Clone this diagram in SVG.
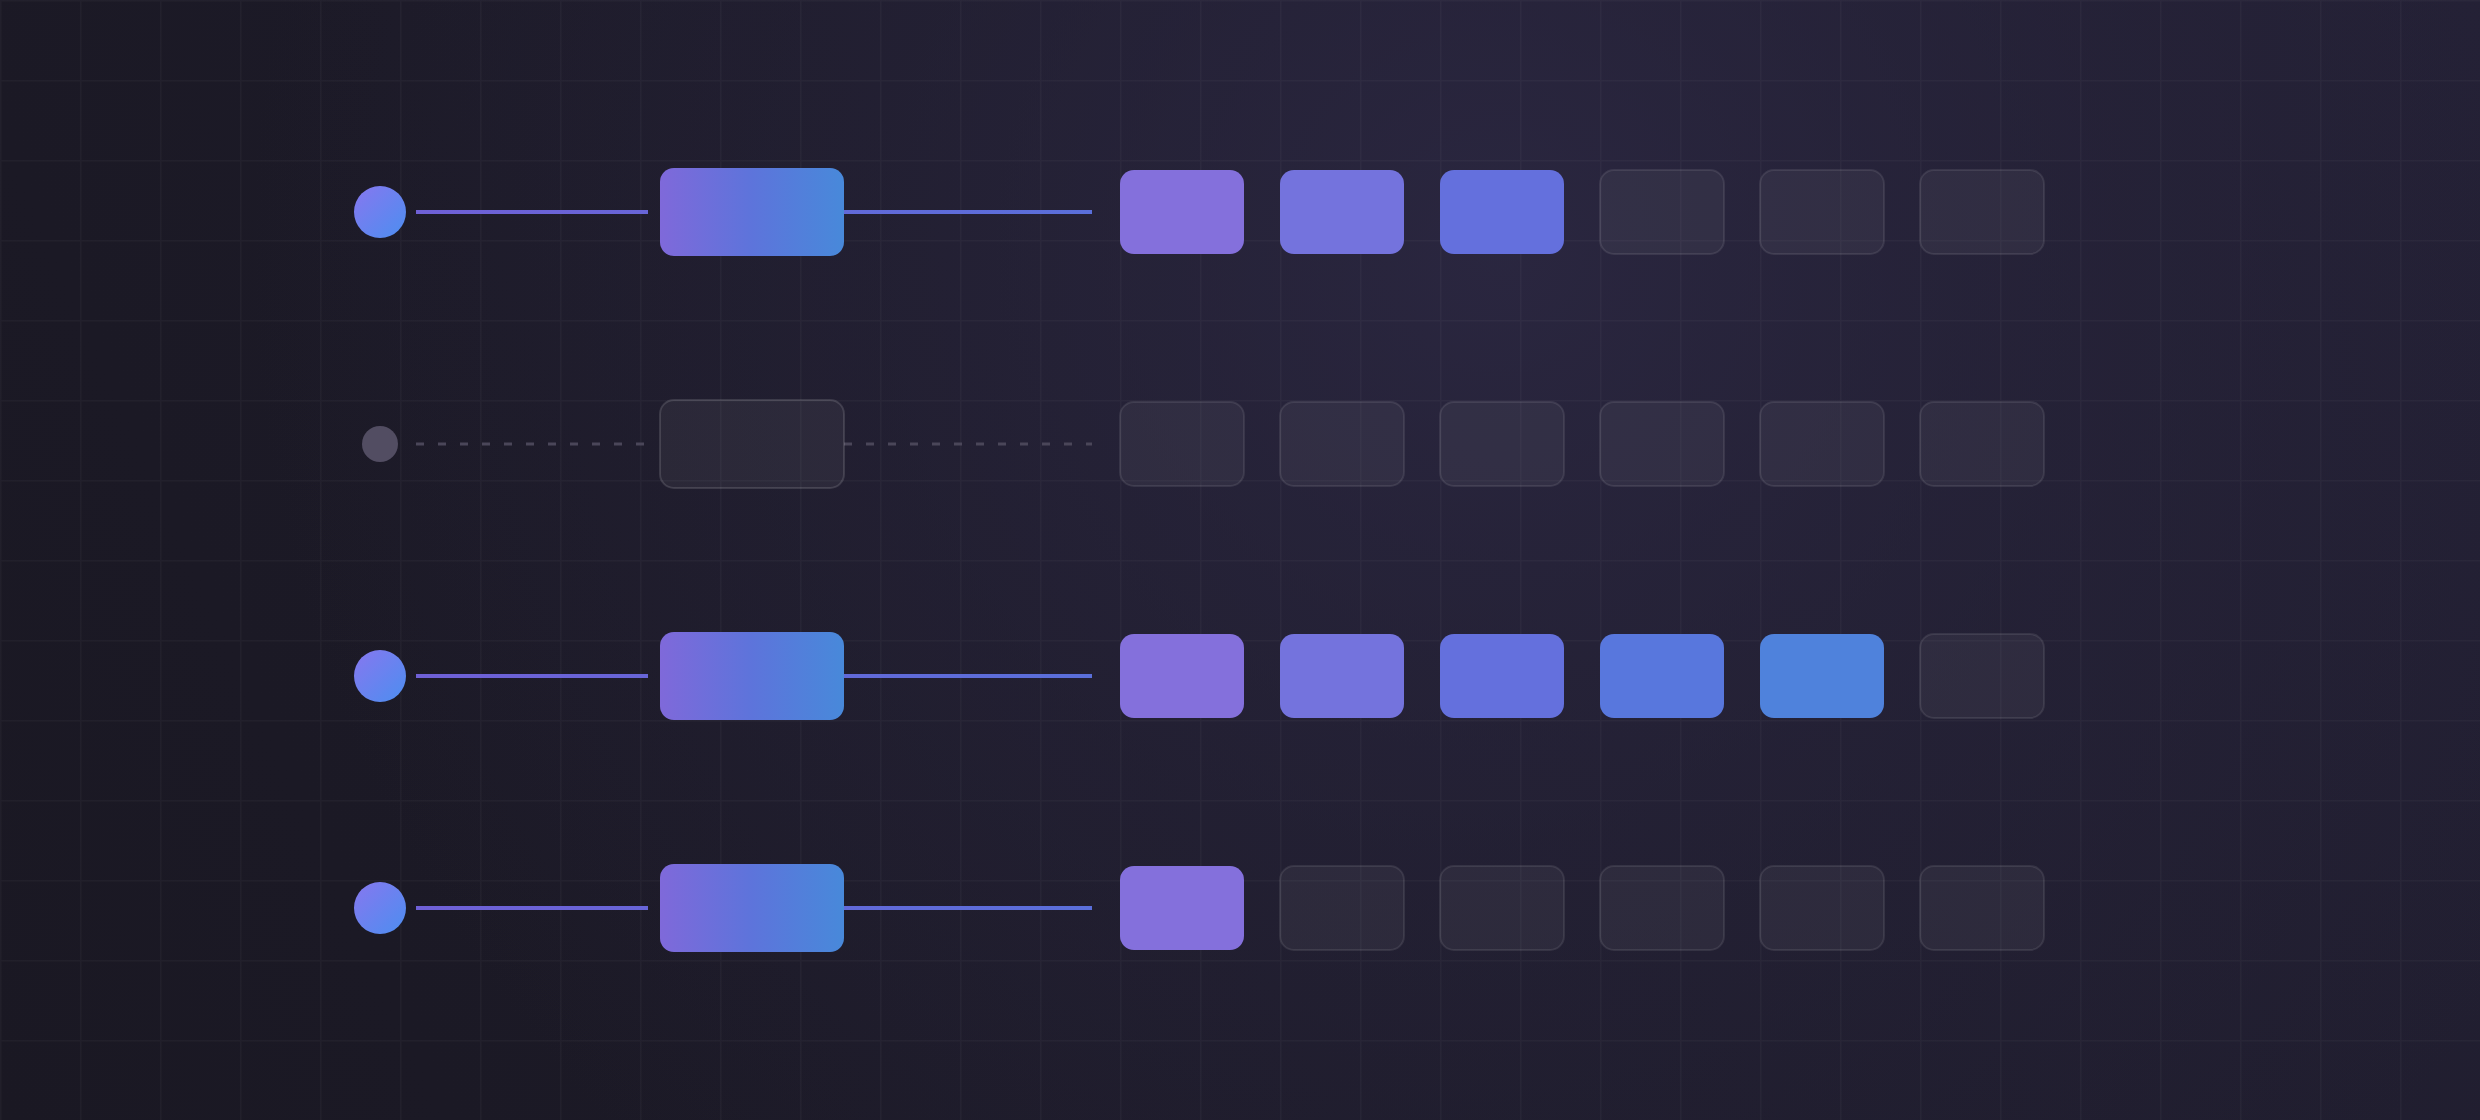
<svg xmlns="http://www.w3.org/2000/svg" width="2480" height="1120" viewBox="0 0 2480 1120">
  <defs>
    <linearGradient id="bg" x1="0" y1="1120" x2="2480" y2="0" gradientUnits="userSpaceOnUse">
      <stop offset="0" stop-color="#1a1823"/>
      <stop offset="0.6" stop-color="#1e1c2b"/>
      <stop offset="1" stop-color="#232034"/>
    </linearGradient>
    <radialGradient id="glow" cx="1500" cy="250" r="1250" gradientUnits="userSpaceOnUse">
      <stop offset="0" stop-color="#2c2843" stop-opacity="0.85"/>
      <stop offset="0.5" stop-color="#2a2640" stop-opacity="0.4"/>
      <stop offset="1" stop-color="#2a2640" stop-opacity="0"/>
    </radialGradient>
    <pattern id="grid" x="0" y="0" width="80" height="80" patternUnits="userSpaceOnUse">
      <path d="M 0 0.75 H 80 M 0.75 0 V 80" fill="none" stroke="#ffffff" stroke-opacity="0.03" stroke-width="1.5"/>
    </pattern>
    <linearGradient id="dotGrad" x1="0" y1="0" x2="1" y2="1">
      <stop offset="0" stop-color="#8777ef"/>
      <stop offset="1" stop-color="#4c8ef0"/>
    </linearGradient>
    <linearGradient id="hubGrad" x1="0" y1="0" x2="1" y2="0">
      <stop offset="0" stop-color="#7f69da"/>
      <stop offset="0.5" stop-color="#5d74db"/>
      <stop offset="1" stop-color="#4889da"/>
    </linearGradient>
    <linearGradient id="lineGrad" x1="416" y1="0" x2="1092" y2="0" gradientUnits="userSpaceOnUse">
      <stop offset="0" stop-color="#6f60d6"/>
      <stop offset="1" stop-color="#5a6fda"/>
    </linearGradient>
    <style>
      .link { stroke: url(#lineGrad); stroke-width: 4; fill: none; }
      .dash { stroke: #4a4659; stroke-width: 3; stroke-dasharray: 8 14; fill: none; }
      .dot { fill: url(#dotGrad); }
      .dot-off { fill: #524d62; }
      .hub { fill: url(#hubGrad); }
      .hub-off { fill: #ffffff; fill-opacity: 0.05; stroke: #ffffff; stroke-opacity: 0.13; stroke-width: 2; }
      .cell-off { fill: #ffffff; fill-opacity: 0.05; stroke: #ffffff; stroke-opacity: 0.09; stroke-width: 2; }
      .c1 { fill: #8470dc; }
      .c2 { fill: #7473dd; }
      .c3 { fill: #6470dd; }
      .c4 { fill: #5877dd; }
      .c5 { fill: #4f82dc; }
    </style>
  </defs>

  <rect width="2480" height="1120" fill="url(#bg)"/>
  <rect width="2480" height="1120" fill="url(#glow)"/>
  <rect width="2480" height="1120" fill="url(#grid)"/>

  <g id="connectors">
    <line class="link" x1="416" y1="212" x2="648" y2="212"/>
    <line class="link" x1="844" y1="212" x2="1092" y2="212"/>
    <line class="dash" x1="416" y1="444" x2="648" y2="444"/>
    <line class="dash" x1="844" y1="444" x2="1092" y2="444"/>
    <line class="link" x1="416" y1="676" x2="648" y2="676"/>
    <line class="link" x1="844" y1="676" x2="1092" y2="676"/>
    <line class="link" x1="416" y1="908" x2="648" y2="908"/>
    <line class="link" x1="844" y1="908" x2="1092" y2="908"/>
  </g>

  <g id="row1">
    <circle id="row1-source" class="dot" cx="380" cy="212" r="26"/>
    <rect id="row1-hub" class="hub" x="660" y="168" width="184" height="88" rx="14"/>
    <rect id="row1-cell1" class="c1" x="1120" y="170" width="124" height="84" rx="14"/>
    <rect id="row1-cell2" class="c2" x="1280" y="170" width="124" height="84" rx="14"/>
    <rect id="row1-cell3" class="c3" x="1440" y="170" width="124" height="84" rx="14"/>
    <rect id="row1-cell4" class="cell-off" x="1600" y="170" width="124" height="84" rx="14"/>
    <rect id="row1-cell5" class="cell-off" x="1760" y="170" width="124" height="84" rx="14"/>
    <rect id="row1-cell6" class="cell-off" x="1920" y="170" width="124" height="84" rx="14"/>
  </g>

  <g id="row2">
    <circle id="row2-source" class="dot-off" cx="380" cy="444" r="18"/>
    <rect id="row2-hub" class="hub-off" x="660" y="400" width="184" height="88" rx="14"/>
    <rect id="row2-cell1" class="cell-off" x="1120" y="402" width="124" height="84" rx="14"/>
    <rect id="row2-cell2" class="cell-off" x="1280" y="402" width="124" height="84" rx="14"/>
    <rect id="row2-cell3" class="cell-off" x="1440" y="402" width="124" height="84" rx="14"/>
    <rect id="row2-cell4" class="cell-off" x="1600" y="402" width="124" height="84" rx="14"/>
    <rect id="row2-cell5" class="cell-off" x="1760" y="402" width="124" height="84" rx="14"/>
    <rect id="row2-cell6" class="cell-off" x="1920" y="402" width="124" height="84" rx="14"/>
  </g>

  <g id="row3">
    <circle id="row3-source" class="dot" cx="380" cy="676" r="26"/>
    <rect id="row3-hub" class="hub" x="660" y="632" width="184" height="88" rx="14"/>
    <rect id="row3-cell1" class="c1" x="1120" y="634" width="124" height="84" rx="14"/>
    <rect id="row3-cell2" class="c2" x="1280" y="634" width="124" height="84" rx="14"/>
    <rect id="row3-cell3" class="c3" x="1440" y="634" width="124" height="84" rx="14"/>
    <rect id="row3-cell4" class="c4" x="1600" y="634" width="124" height="84" rx="14"/>
    <rect id="row3-cell5" class="c5" x="1760" y="634" width="124" height="84" rx="14"/>
    <rect id="row3-cell6" class="cell-off" x="1920" y="634" width="124" height="84" rx="14"/>
  </g>

  <g id="row4">
    <circle id="row4-source" class="dot" cx="380" cy="908" r="26"/>
    <rect id="row4-hub" class="hub" x="660" y="864" width="184" height="88" rx="14"/>
    <rect id="row4-cell1" class="c1" x="1120" y="866" width="124" height="84" rx="14"/>
    <rect id="row4-cell2" class="cell-off" x="1280" y="866" width="124" height="84" rx="14"/>
    <rect id="row4-cell3" class="cell-off" x="1440" y="866" width="124" height="84" rx="14"/>
    <rect id="row4-cell4" class="cell-off" x="1600" y="866" width="124" height="84" rx="14"/>
    <rect id="row4-cell5" class="cell-off" x="1760" y="866" width="124" height="84" rx="14"/>
    <rect id="row4-cell6" class="cell-off" x="1920" y="866" width="124" height="84" rx="14"/>
  </g>
</svg>
